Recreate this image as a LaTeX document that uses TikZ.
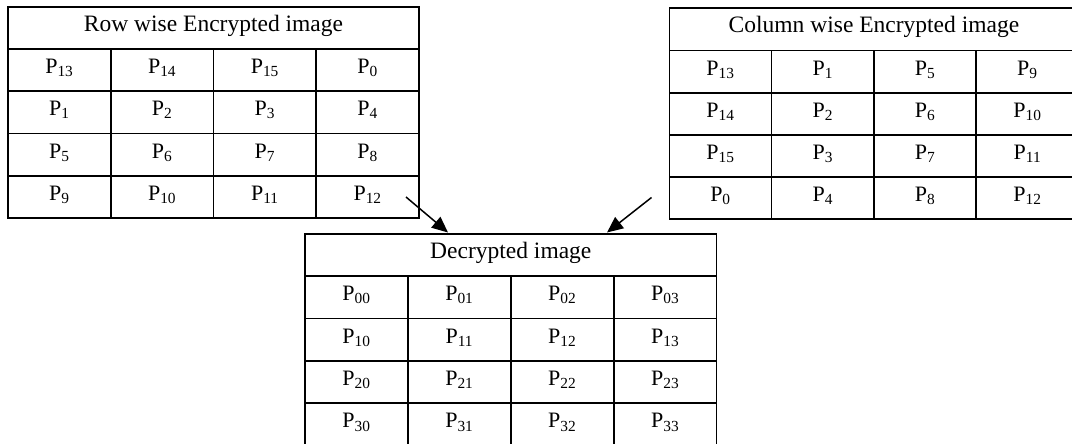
\documentclass[tikz,border=0pt]{standalone}
\usepackage{fontspec}
\setmainfont{Liberation Serif}
\usetikzlibrary{arrows.meta}
\tikzset{
  x=1pt, y=-1pt,
  tcell/.style={draw, line width=1.6pt, inner sep=0pt, outer sep=0pt, anchor=north west,
    text height=7pt, text depth=0pt, font=\fontsize{22}{26}\selectfont},
  thead/.style={tcell, font=\fontsize{23.5}{28}\selectfont},
  arr/.style={line width=1.5pt, -{Triangle[length=16pt,width=14pt]}}
}
\begin{document}
\begin{tikzpicture}
\useasboundingbox (0,0) rectangle (1072,444);
\clip (0,0) rectangle (1072,444);
% Row wise table
\node[thead, minimum width=411pt, minimum height=42pt] (Lh) at (8,7) {Row wise Encrypted image};
\foreach \cells [count=\i] in {{13,14,15,0},{1,2,3,4},{5,6,7,8},{9,10,11,12}} {
  \foreach \s [count=\j] in \cells {
    \node[tcell, minimum width=102.75pt, minimum height=42.25pt] (L-\i-\j)
      at ({8+102.75*(\j-1)},{49+42.25*(\i-1)}) {P\textsubscript{\s}};
  }
}
% Column wise table
\node[thead, minimum width=409.3pt, minimum height=42.4pt] (Rh) at (669.3,8.3) {Column wise Encrypted image};
\foreach \cells [count=\i] in {{13,1,5,9},{14,2,6,10},{15,3,7,11},{0,4,8,12}} {
  \foreach \s [count=\j] in \cells {
    \node[tcell, minimum width=102.33pt, minimum height=42.1pt] (R-\i-\j)
      at ({669.3+102.33*(\j-1)},{50.7+42.1*(\i-1)}) {P\textsubscript{\s}};
  }
}
% Decrypted table
\node[thead, minimum width=411.6pt, minimum height=42pt] (Dh) at (305,234) {Decrypted image};
\foreach \cells [count=\i] in {{00,01,02,03},{10,11,12,13},{20,21,22,23},{30,31,32,33}} {
  \foreach \s [count=\j] in \cells {
    \node[tcell, minimum width=102.9pt, minimum height=42.4pt] (D-\i-\j)
      at ({305+102.9*(\j-1)},{276+42.4*(\i-1)}) {P\textsubscript{\s}};
  }
}
% arrows
\coordinate (Ls) at (406,197);
\coordinate (Lt) at (448,232.5);
\coordinate (Rs) at (651.5,197.5);
\coordinate (Rt) at (607,232.5);
\draw[arr] (Ls) -- (Lt);
\draw[arr] (Rs) -- (Rt);
\end{tikzpicture}
\end{document}
